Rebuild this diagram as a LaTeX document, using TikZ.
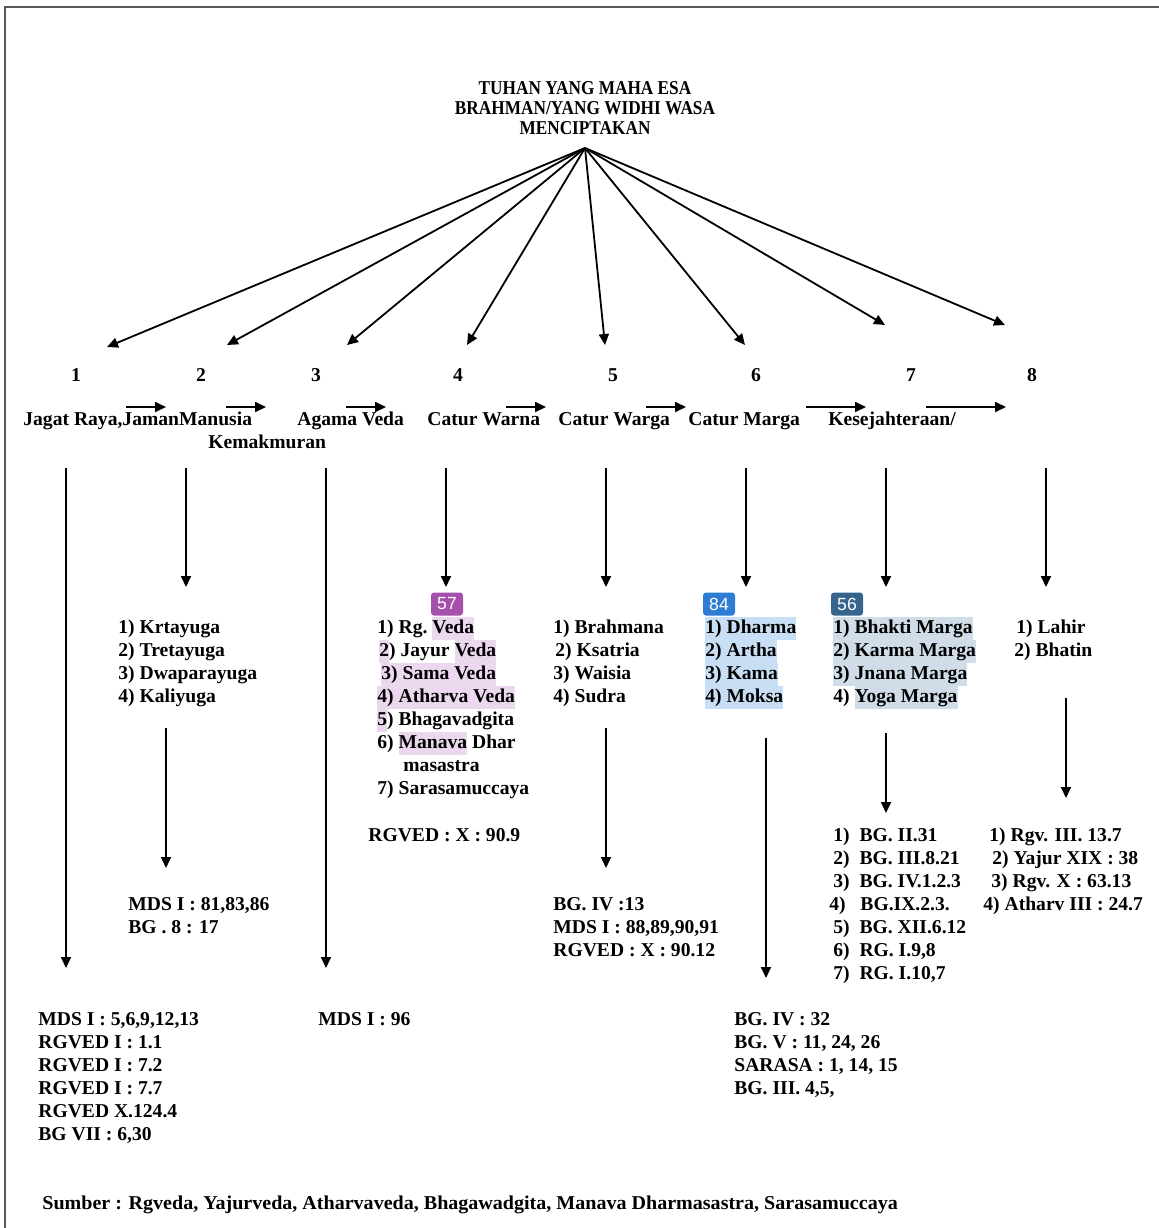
\documentclass[tikz,border=0pt]{standalone}
\usepackage{fontspec}
\setmainfont{Liberation Serif}
\newfontfamily\badgefont{Liberation Sans}
\usetikzlibrary{arrows.meta}
\definecolor{hlpurple}{RGB}{236,216,238}
\definecolor{hlblue}{RGB}{200,222,244}
\definecolor{hlgrey}{RGB}{208,220,231}
\definecolor{bpurple}{RGB}{165,80,170}
\definecolor{bblue}{RGB}{45,125,212}
\definecolor{bslate}{RGB}{55,100,140}
\newcommand\hlx[2]{{\setlength{\fboxsep}{0pt}\colorbox{#1}{\strut #2}}}
\newcommand\hP[1]{\hlx{hlpurple}{#1}}
\newcommand\hB[1]{\hlx{hlblue}{#1}}
\newcommand\hG[1]{\hlx{hlgrey}{#1}}
\newcommand\lst[1]{\begin{tabular}[t]{@{}l@{}}#1\end{tabular}}
\newcommand\ctr[1]{\begin{tabular}[t]{@{}c@{}}#1\end{tabular}}
\tikzset{
  conn/.style={line width=0.9pt, -{Triangle[length=5.5pt,width=5pt]}},
  txt/.style={inner sep=0pt, font=\fontsize{9.8}{11.5}\selectfont\bfseries, anchor=base west},
  num/.style={inner sep=0pt, font=\fontsize{9.8}{11.5}\selectfont\bfseries, anchor=base},
  badge/.style={fill=#1, rounded corners=1.5pt, text=white, font=\badgefont\fontsize{8.8}{10}\selectfont, minimum width=16pt, minimum height=11.5pt, inner sep=0pt},
}
\begin{document}
\begin{tikzpicture}[x=0.5pt,y=-0.5pt]
\useasboundingbox (0,0) rectangle (1159,1228);
% frame
\draw[line width=1pt, black!65] (5,1228) -- (5,7) -- (1159,7);
% title
\node[num, font=\fontsize{9.8}{10}\selectfont\bfseries] (title) at (585,94.5)
  {\ctr{\scalebox{0.88}[1]{TUHAN YANG MAHA ESA}\\
        \scalebox{0.88}[1]{BRAHMAN/YANG WIDHI WASA}\\
        \scalebox{0.88}[1]{MENCIPTAKAN}}};
\coordinate (src) at (585,148);
% spoke targets
\coordinate (e1) at (107,347);
\coordinate (e2) at (227,345);
\coordinate (e3) at (347,345);
\coordinate (e4) at (467,345);
\coordinate (e5) at (605,345);
\coordinate (e6) at (745,345);
\coordinate (e7) at (885,325);
\coordinate (e8) at (1005,325);
\foreach \i in {1,...,8} \draw[conn] (src) -- (e\i);
% numbers
\node[num] (n1) at (76,381.5) {1};
\node[num] (n2) at (201,381.5) {2};
\node[num] (n3) at (316,381.5) {3};
\node[num] (n4) at (458,381.5) {4};
\node[num] (n5) at (613,381.5) {5};
\node[num] (n6) at (756,381.5) {6};
\node[num] (n7) at (911,381.5) {7};
\node[num] (n8) at (1032,381.5) {8};
% labels
\node[txt] (l1) at (23,425) {Jagat Raya,JamanManusia};
\node[txt] (l1b) at (208,448) {Kemakmuran};
\node[txt] (l3) at (297,425) {Agama Veda};
\node[txt] (l4) at (427,425) {Catur Warna};
\node[txt] (l5) at (558,425) {Catur Warga};
\node[txt] (l6) at (688,425) {Catur Marga};
\node[txt] (l7) at (828,425) {Kesejahteraan/};
% horizontal arrows
\foreach \a/\b [count=\k] in {126/166,226/266,346/386,506/546,646/686,806/866,926/1006}{
  \coordinate (hs\k) at (\a,407);
  \coordinate (he\k) at (\b,407);
  \draw[conn] (hs\k) -- (he\k);
}
% first vertical arrows
\foreach \x/\ye [count=\k] in {66/968,186/587,326/968,446/587,606/587,746/587,886/587,1046/587}{
  \coordinate (vs\k) at (\x,468);
  \coordinate (ve\k) at (\x,\ye);
  \draw[conn] (vs\k) -- (ve\k);
}
% badges
\node[badge=bpurple] (b57) at (447,604) {57};
\node[badge=bblue] (b84) at (719,604) {84};
\node[badge=bslate] (b56) at (847,604) {56};
% lists
\node[txt] (list2) at (118,633) {\lst{1) Krtayuga\\2) Tretayuga\\3) Dwaparayuga\\4) Kaliyuga}};
\node[txt] (list4) at (377,633) {\lst{1) Rg.\ \hP{Veda}\\
  \hspace{1pt}\hP{2}) Jayur \hP{Veda}\\
  \hspace{2pt}\hP{3) Sama Veda}\\
  \hP{4) Atharva Veda}\\
  \hP{5}) Bhagavadgita\\
  6) \hP{Manava} Dhar\\
  \hspace{13pt}masastra\\
  7) Sarasamuccaya}};
\node[txt] (list5) at (553,633) {\lst{1) Brahmana\\\hspace{1pt}2) Ksatria\\3) Waisia\\4) Sudra}};
\node[txt] (list6) at (705,633) {\lst{\hB{1) Dharma}\\\hB{2) Artha}\\\hB{3) Kama}\\\hB{4) Moksa}}};
\node[txt] (list7) at (833,633) {\lst{\hG{1) Bhakti Marga}\\\hG{2) Karma Marga}\\\hG{3) Jnana Marga}\\4) \hG{Yoga Marga}}};
\node[txt] (list8) at (1014,633) {\lst{\hspace{1pt}1) Lahir\\2) Bhatin}};
% second vertical arrows
\coordinate (w2s) at (166,728); \coordinate (w2e) at (166,868);
\coordinate (w5s) at (606,728); \coordinate (w5e) at (606,868);
\coordinate (w6s) at (766,738); \coordinate (w6e) at (766,978);
\coordinate (w7s) at (886,733); \coordinate (w7e) at (886,813);
\coordinate (w8s) at (1066,698); \coordinate (w8e) at (1066,798);
\foreach \k in {2,5,6,7,8} \draw[conn] (w\k s) -- (w\k e);
% references
\node[txt] (r4) at (368,841) {RGVED : X : 90.9};
\node[txt] (r2) at (128,910) {\lst{MDS I : 81,83,86\\BG . 8 : 17}};
\node[txt] (r5) at (553,910) {\lst{BG. IV :13\\MDS I : 88,89,90,91\\RGVED : X : 90.12}};
\node[txt] (r7) at (833,841) {\lst{1)\ \ BG. II.31\\2)\ \ BG. III.8.21\\3)\ \ BG. IV.1.2.3\\\hspace{-2pt}4)\ \ \ BG.IX.2.3.\\5)\ \ BG. XII.6.12\\6)\ \ RG. I.9,8\\7)\ \ RG. I.10,7}};
\node[txt] (r8) at (983,841) {\lst{\hspace{3pt}1) Rgv. III. 13.7\\\hspace{4.5pt}2) Yajur XIX : 38\\\hspace{4pt}3) Rgv. X : 63.13\\4) Atharv III : 24.7}};
\node[txt] (r1) at (38,1025) {\lst{MDS I : 5,6,9,12,13\\RGVED I : 1.1\\RGVED I : 7.2\\RGVED I : 7.7\\RGVED X.124.4\\BG VII : 6,30}};
\node[txt] (r3) at (318,1025) {MDS I : 96};
\node[txt] (r6) at (734,1025) {\lst{BG. IV : 32\\BG. V : 11, 24, 26\\SARASA : 1, 14, 15\\BG. III. 4,5,}};
\node[txt] (src-note) at (42,1209) {\scalebox{1.023}[1]{Sumber : Rgveda, Yajurveda, Atharvaveda, Bhagawadgita, Manava Dharmasastra, Sarasamuccaya}};
\end{tikzpicture}
\end{document}
